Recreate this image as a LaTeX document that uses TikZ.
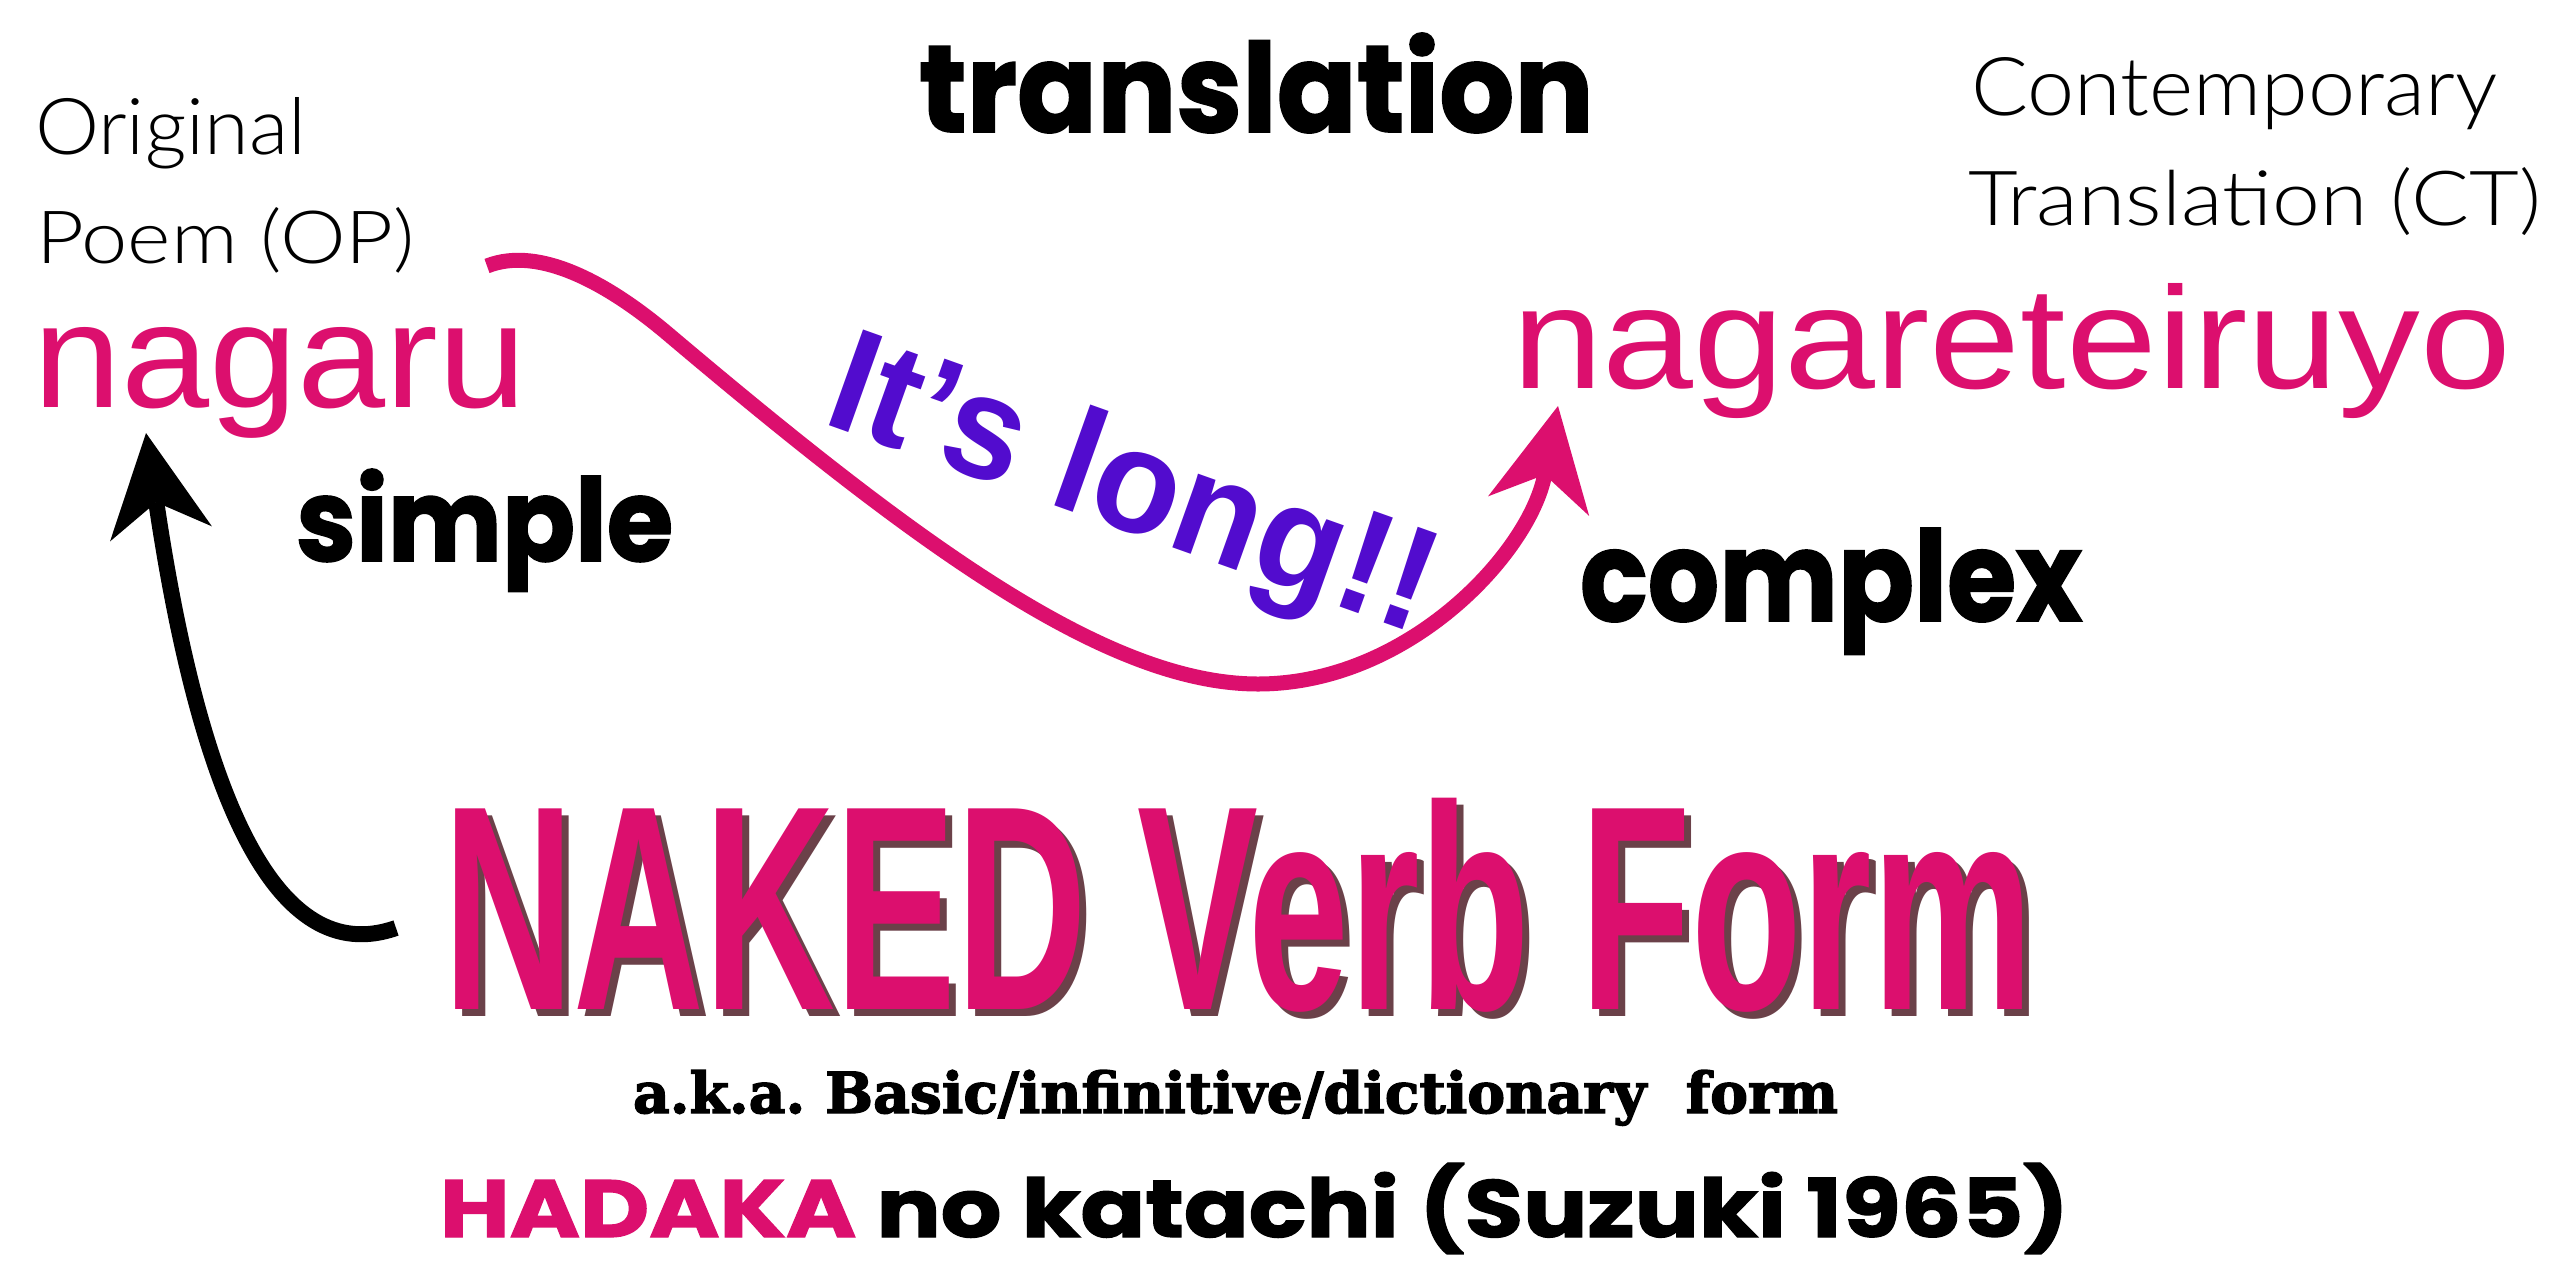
\documentclass[tikz,border=0pt]{standalone}
\usepackage{fontspec}
\setmainfont{Liberation Sans}
\newfontfamily\helv{Liberation Sans}
\newfontfamily\lightf{Lato Light}
\newfontfamily\geo{Poppins}[UprightFont={* Bold}, FakeBold=1.5]
\newfontfamily\slab{DejaVu Serif}[UprightFont={* Bold}, FakeBold=2.5]
\usetikzlibrary{arrows.meta}
\definecolor{pinkc}{RGB}{220,15,110}
\definecolor{purplec}{RGB}{82,12,206}
\definecolor{shadowc}{RGB}{70,18,28}
\tikzset{
  txt/.style={inner sep=0pt, outer sep=0pt, anchor=base west},
  conn/.style={line width=15pt, -{Stealth[length=102pt,width=103pt,inset=32pt,line width=0pt]}},
}
\newcommand{\nakedtext}{\resizebox{1590pt}{211pt}{\helv\bfseries NAKED Verb Form}}
\begin{document}
\frenchspacing
\begin{tikzpicture}[x=1pt,y=-1pt]
\fill[white] (0,0) rectangle (2556,1261);
\useasboundingbox (0,0) rectangle (2556,1261);

% labels
\node[txt] (orig) at (35,154) {\resizebox{271pt}{57pt}{\lightf Original}};
\node[txt] (poem) at (36,263) {\resizebox{379pt}{56pt}{\lightf Poem (OP)}};
\node[txt, text=pinkc] (nagaru) at (33,407) {\resizebox{493pt}{80pt}{\helv nagaru}};
\node[txt, text=pinkc] (nagare) at (1512,388) {\resizebox{999pt}{105pt}{\helv nagareteiruyo}};
\node[txt] (contemp) at (1971,115) {\resizebox{526pt}{58pt}{\lightf Contemporary}};
\node[txt] (transct) at (1968,225) {\resizebox{573pt}{58pt}{\lightf Translation (CT)}};
\node[txt] (transl) at (919,132) {\resizebox{674pt}{99pt}{\geo translation}};
\node[txt] (simple) at (296,561) {\resizebox{377pt}{92pt}{\geo simple}};
\node[txt] (complex) at (1580,621) {\resizebox{502pt}{93pt}{\geo complex}};
\node[txt, rotate=-19.6, text=purplec] (long) at (820,422) {\resizebox{632pt}{107pt}{\helv\bfseries It’s long!!}};

% NAKED with shadow
\node[txt, text=shadowc, opacity=0.8] (nakedsh) at (450,1016) {\nakedtext};
\node[txt, text=pinkc] (naked) at (443,1009) {\nakedtext};

\node[txt] (aka) at (633,1113) {\resizebox{1205pt}{43pt}{\slab a.k.a. Basic/infinitive/dictionary\ \ form}};
\node[txt] (hadaka) at (440,1237) {\resizebox{1628pt}{74pt}{\geo\textcolor{pinkc}{HADAKA} no katachi (Suzuki 1965)}};

% connectors
\coordinate (pS) at (487,266);
\coordinate (pT) at (1558,406);
\coordinate (bS) at (396,928);
\coordinate (bT) at (146,433);
\draw[conn, pinkc] (pS) .. controls (540,245) and (610,285) .. (668,334)
  .. controls (920,547) and (1108,684) .. (1258,684)
  .. controls (1408,684) and (1529.5,553) .. (pT);
\draw[conn, black, line width=16pt] (bS) .. controls (276,970) and (200,797) .. (bT);
\end{tikzpicture}
\end{document}
